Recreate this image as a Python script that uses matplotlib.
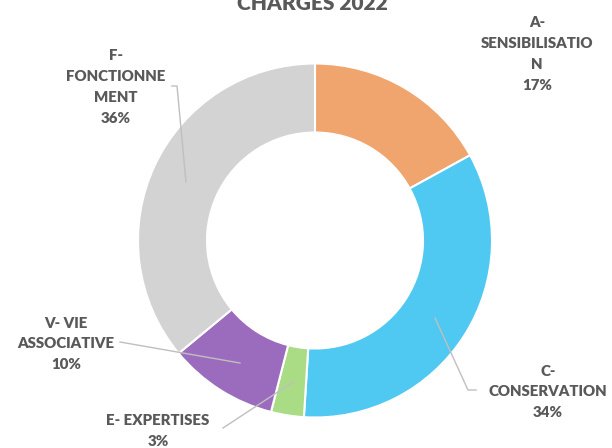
import matplotlib
matplotlib.use("Agg")
import matplotlib.pyplot as plt

# charges 2022, parts in percent, clockwise from the top
categories = ["A-\nSENSIBILISATIO\nN", "C-\nCONSERVATION", "E- EXPERTISES",
              "V- VIE\nASSOCIATIVE", "F-\nFONCTIONNE\nMENT"]
values = [17, 34, 3, 10, 36]
colors = ["#F0A46E", "#4FC9F2", "#A9DC85", "#9B6CBD", "#D3D3D3"]
title = "CHARGES 2022"

plt.rcParams['font.family'] = ['Lato', 'DejaVu Sans']
txt = "#595959"
line_col = "#BFBFBF"

W, H = 612, 448
fig = plt.figure(figsize=(W / 100, H / 100), dpi=100)
ax = fig.add_axes([0, 0, 1, 1])

cx, cy, r = 315, H - 240.5, 177
wedges, _ = ax.pie(values, colors=colors, startangle=90, counterclock=False,
                   center=(cx, cy), radius=r, frame=True,
                   wedgeprops=dict(width=69, edgecolor="white", linewidth=1.5))
ax.set_xlim(0, W)
ax.set_ylim(0, H)
ax.set_aspect("equal")
ax.axis("off")

ax.text(312, H - 9.5, title, ha="center", va="baseline", fontsize=15,
        fontweight="heavy", color=txt)

# label positions (pixel coords, y from top) and leader lines
label_pos = [(537, 54), (548, 392), (158, 431), (66, 344), (116, 87)]
leaders = [None,
           [(476, 390), (468, 390), (435, 318)],
           [(223, 428), (293, 382)],
           [(120, 342), (240, 363)],
           [(172, 86), (177, 86), (186, 182)]]

for cat, v, (x, y), ld in zip(categories, values, label_pos, leaders):
    ax.text(x, H - y, f"{cat}\n{v}%", ha="center", va="center",
            multialignment="center", fontsize=10.8, fontweight="heavy",
            color=txt, linespacing=1.72)
    if ld:
        ax.plot([p[0] for p in ld], [H - p[1] for p in ld], color=line_col,
                lw=1, zorder=5)

fig.savefig("out.png", dpi=100)
